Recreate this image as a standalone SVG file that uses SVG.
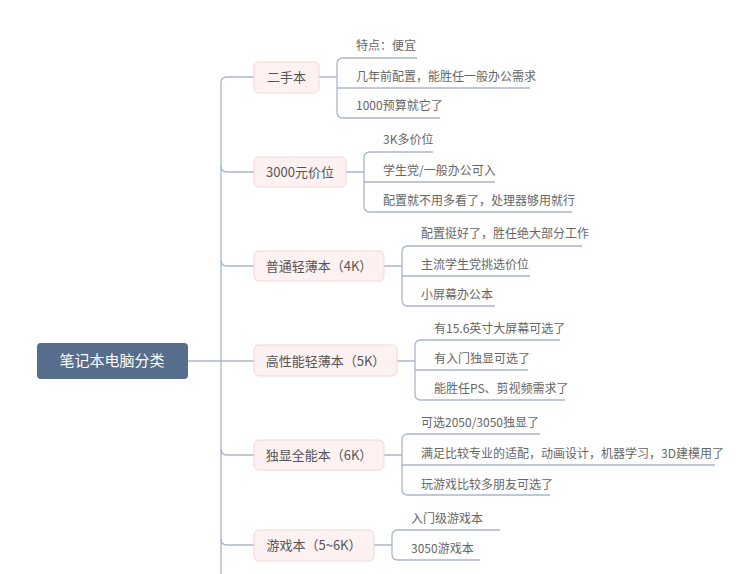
<svg xmlns="http://www.w3.org/2000/svg" width="750" height="574" viewBox="0 0 750 574">
<style>
.l{fill:none;stroke:#a9b7cc;stroke-width:1.3}
.n{fill:#fdf1f1;stroke:#f3d6d6;stroke-width:1}
.t{font-family:"Noto Sans CJK SC","Noto Sans",sans-serif;fill:#555;font-size:13px}
.s{font-family:"Noto Sans CJK SC","Noto Sans",sans-serif;fill:#666;font-size:12px}
</style>
<rect width="750" height="574" fill="#fff"/>
<g id="connectors" class="l">
<path d="M254 77H227Q221 77 221 83V574"/>
<path d="M221 166Q221 172 227 172H254M221 260Q221 266 227 266H254M221 449Q221 455 227 455H254M221 539Q221 545 227 545H254M188 361H254"/>
<path d="M319 77H337M417 58H343Q337 58 337 64V112Q337 118 343 118H440M337 88H530"/>
<path d="M346 172H364M433 152H370Q364 152 364 158V206Q364 212 370 212H572M364 182H495"/>
<path d="M384 266H402M582 246H408Q402 246 402 252V300Q402 306 408 306H495M402 276H530"/>
<path d="M397 361H415M560 340H421Q415 340 415 346V394Q415 400 421 400H565M415 370H528"/>
<path d="M384 455H402M540 434H408Q402 434 402 440V489Q402 495 408 495H550M402 465H715"/>
<path d="M374 545H392M500 530H398Q392 530 392 536V554Q392 560 398 560H480"/>
</g>
<g id="root"><rect x="37" y="343" width="151" height="36" rx="4" fill="#566d8c"/><text x="112" y="366" text-anchor="middle" font-family="Noto Sans CJK SC,sans-serif" font-size="15" fill="#fff">笔记本电脑分类</text></g>
<g id="n1"><rect class="n" x="254" y="62" width="65" height="31" rx="5"/><text class="t" x="286.5" y="82" text-anchor="middle">二手本</text></g>
<g id="n2"><rect class="n" x="254" y="157" width="92" height="30" rx="5"/><text class="t" x="300" y="177" text-anchor="middle">3000元价位</text></g>
<g id="n3"><rect class="n" x="254" y="251" width="130" height="30" rx="5"/><text class="t" x="319" y="271" text-anchor="middle">普通轻薄本（4K）</text></g>
<g id="n4"><rect class="n" x="254" y="345" width="143" height="31" rx="5"/><text class="t" x="325.5" y="366" text-anchor="middle">高性能轻薄本（5K）</text></g>
<g id="n5"><rect class="n" x="254" y="440" width="130" height="30" rx="5"/><text class="t" x="319" y="460" text-anchor="middle">独显全能本（6K）</text></g>
<g id="n6"><rect class="n" x="254" y="530" width="120" height="31" rx="5"/><text class="t" x="314" y="550" text-anchor="middle">游戏本（5~6K）</text></g>
<g id="leaves" class="s">
<text x="356" y="50">特点：便宜</text>
<text x="356" y="81">几年前配置，能胜任一般办公需求</text>
<text x="356" y="110">1000预算就它了</text>
<text x="383" y="144">3K多价位</text>
<text x="383" y="175">学生党/一般办公可入</text>
<text x="383" y="205">配置就不用多看了，处理器够用就行</text>
<text x="421" y="238">配置挺好了，胜任绝大部分工作</text>
<text x="421" y="269">主流学生党挑选价位</text>
<text x="421" y="299">小屏幕办公本</text>
<text x="434" y="333">有15.6英寸大屏幕可选了</text>
<text x="434" y="363">有入门独显可选了</text>
<text x="434" y="393">能胜任PS、剪视频需求了</text>
<text x="421" y="427">可选2050/3050独显了</text>
<text x="421" y="458">满足比较专业的适配，动画设计，机器学习，3D建模用了</text>
<text x="421" y="489">玩游戏比较多朋友可选了</text>
<text x="411" y="523">入门级游戏本</text>
<text x="411" y="553">3050游戏本</text>
</g>
</svg>
